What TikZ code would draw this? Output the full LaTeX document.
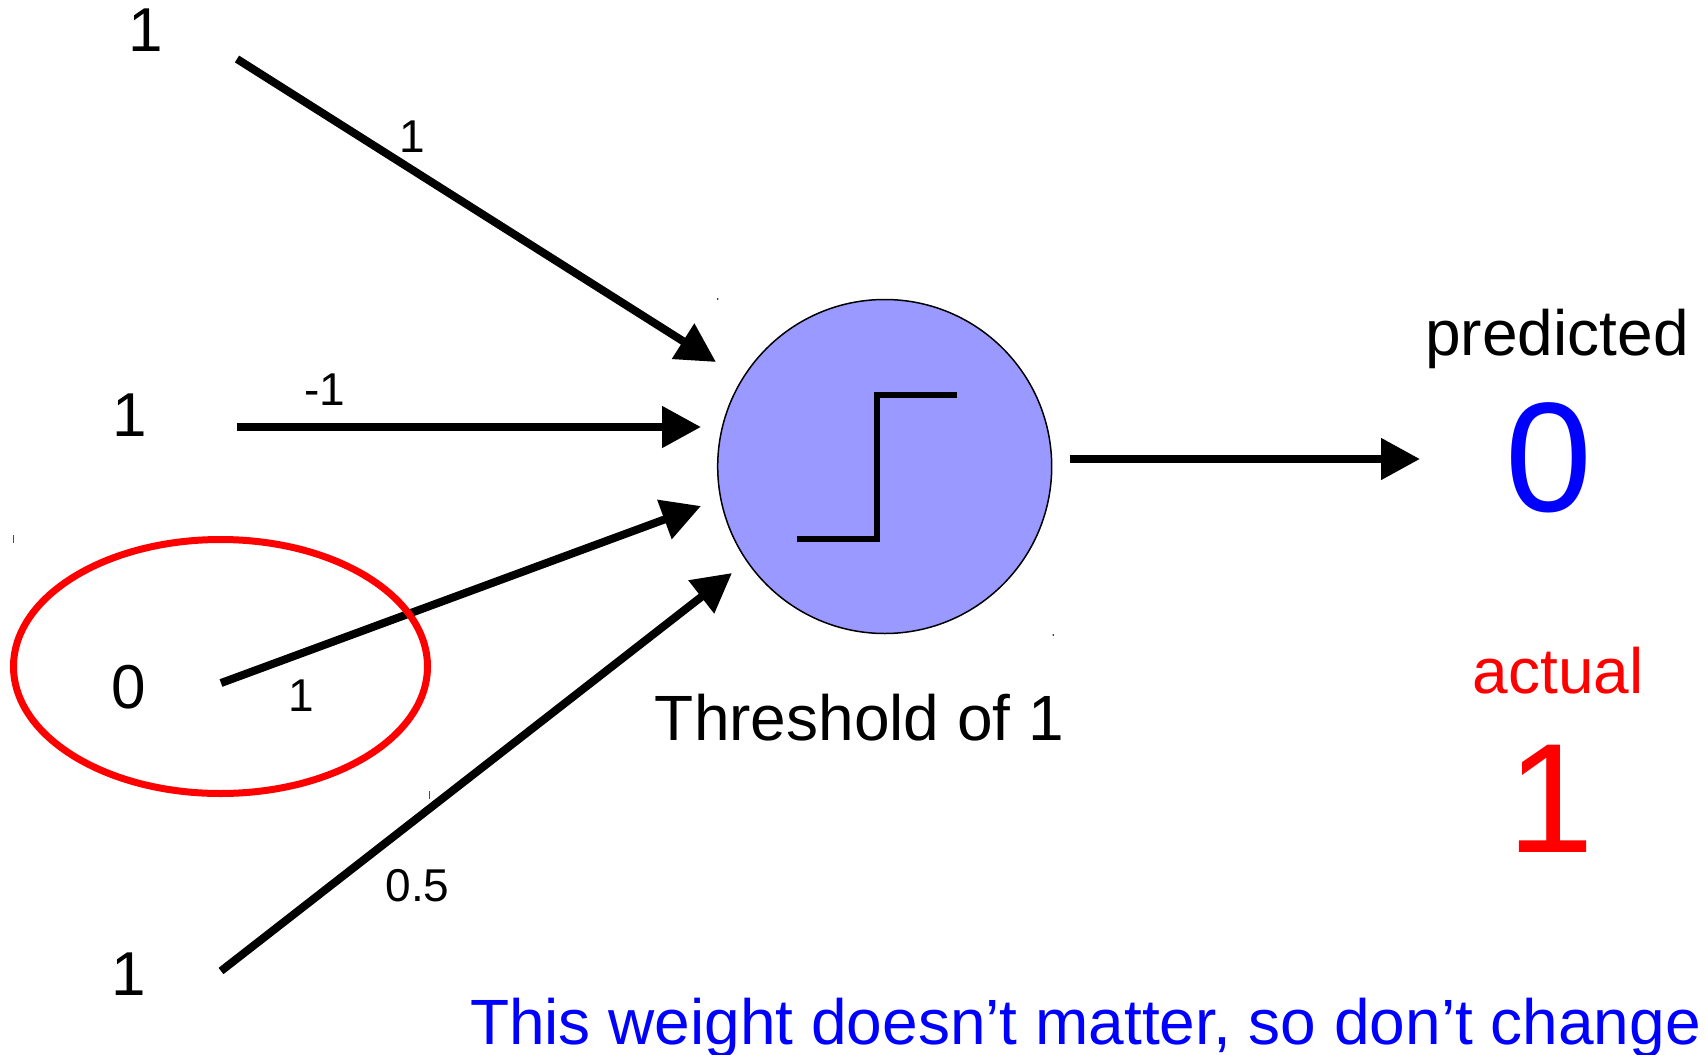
\documentclass[tikz,border=0pt]{standalone}
\usepackage{fontspec}
\setmainfont{Liberation Sans}
\usetikzlibrary{arrows.meta}
\definecolor{neuronfill}{RGB}{153,153,255}
\begin{document}
\begin{tikzpicture}[x=1pt,y=-1pt,
  txt/.style={inner sep=0pt, outer sep=0pt, anchor=base},
  inp/.style={txt, font=\fontsize{62}{62}\selectfont},
  wlab/.style={txt, font=\fontsize{46}{46}\selectfont},
  mid/.style={txt, font=\fontsize{64}{64}\selectfont},
  big/.style={txt, font=\fontsize{156}{156}\selectfont},
  conn/.style={line width=8pt, -{Triangle[length=39pt,width=40pt]}},
  stepline/.style={line width=6.5pt, line join=miter},
  tick/.style={line width=1pt},
]
\useasboundingbox (0,0) rectangle (1706,1055);

% neuron
\node[circle, draw=black, line width=1.5pt, fill=neuronfill, minimum size=334pt, inner sep=0pt] (neuron) at (884.7,466.5) {};
\draw[stepline] (797,539) -- (877,539) -- (877,395) -- (957,395);

% inputs
\node[inp] (in1) at (146,51.7) {1};
\node[inp] (in2) at (130,436) {1};
\node[inp] (in3) at (129,708) {0};
\node[inp] (in4) at (129,995) {1};

% connector ends
\coordinate (s1) at (237,59);
\coordinate (t1) at (716,362);
\coordinate (s2) at (237,427);
\coordinate (t2) at (701,427);
\coordinate (s3) at (221,683);
\coordinate (t3) at (701,506);
\coordinate (s4) at (221,971);
\coordinate (t4) at (732,573);
\coordinate (so) at (1069.5,459);
\coordinate (to) at (1420,459);

\draw[conn] (s1) -- (t1);
\draw[conn] (s2) -- (t2);
\draw[conn] (s3) -- (t3);
\draw[conn] (s4) -- (t4);
\draw[conn] (so) -- (to);

% weights
\node[wlab] (w1) at (412,152) {1};
\node[wlab] (w2) at (325,405) {-1};
\node[wlab] (w3) at (301,711) {1};
\node[wlab] (w4) at (417.5,901) {0.5};

% red ellipse
\draw[red, line width=7pt] (220.5,666.5) ellipse [x radius=207pt, y radius=127pt];
\draw[red, tick] (13.4,535) -- (13.4,542.5);
\draw[red, tick] (429.5,791) -- (429.5,799);
\fill[black] (717.7,299) circle [radius=0.9pt];
\fill[black] (1053.3,635) circle [radius=0.9pt];

% texts
\node[mid] (thr) at (859.5,740) {Threshold of 1};
\node[mid] (pred) at (1557,355) {predicted};
\node[big, text=blue] (pval) at (1548.7,511) {0};
\node[mid, text=red] (act) at (1558,693) {actual};
\node[big, text=red] (aval) at (1550.7,852.3) {1};
\node[mid, text=blue, anchor=base west] (note) at (470,1044) {This weight doesn’t matter, so don’t change};
\end{tikzpicture}
\end{document}
